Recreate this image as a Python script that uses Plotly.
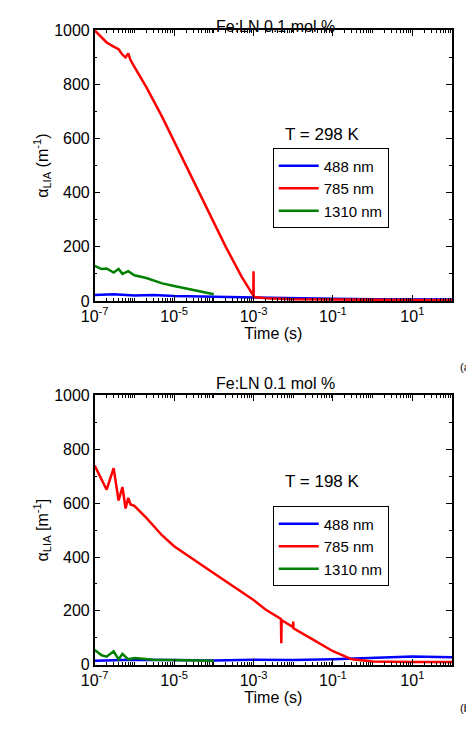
import plotly.graph_objects as go
from plotly.subplots import make_subplots

# panel (a), T = 298 K
t_a_red = [1e-7, 1.5e-7, 2e-7, 3e-7, 4e-7, 5e-7, 6e-7, 7e-7, 8e-7, 1e-6, 2e-6, 5e-6, 1e-5, 2e-5, 5e-5, 1e-4, 2e-4, 5e-4,
           9.9e-4, 1e-3, 1.01e-3, 2e-3, 1e-2, 1e-1, 1, 10, 100]
a_red = [1000, 975, 955, 940, 930, 910, 900, 915, 890, 865, 790, 680, 590, 500, 380, 290, 200, 90,
         20, 110, 15, 10, 6, 5, 4, 4, 3]
t_a_green = [1e-7, 1.5e-7, 2e-7, 3e-7, 4e-7, 5e-7, 7e-7, 1e-6, 2e-6, 5e-6, 1e-5, 3e-5, 1e-4]
a_green = [130, 118, 120, 105, 118, 100, 110, 95, 85, 65, 55, 40, 25]
t_a_blue = [1e-7, 3e-7, 1e-6, 3e-6, 1e-5, 1e-4, 1e-3, 1e-2, 1e-1, 1, 10, 100]
a_blue = [22, 25, 20, 22, 18, 15, 12, 10, 8, 6, 6, 5]

# panel (b), T = 198 K
t_b_red = [1e-7, 1.5e-7, 2e-7, 3e-7, 4e-7, 5e-7, 6e-7, 7e-7, 8e-7, 1e-6, 2e-6, 5e-6, 1e-5, 1e-4, 1e-3, 2e-3,
           4.9e-3, 5e-3, 5.1e-3, 9.9e-3, 1e-2, 1.01e-2, 3e-2, 1e-1, 3e-1, 1, 10, 100]
b_red = [740, 690, 650, 730, 610, 660, 580, 620, 595, 590, 545, 480, 440, 340, 240, 205,
         170, 80, 165, 140, 160, 135, 95, 50, 20, 12, 10, 10]
t_b_green = [1e-7, 1.5e-7, 2e-7, 3e-7, 4e-7, 5e-7, 7e-7, 1e-6, 3e-6, 1e-5, 1e-4]
b_green = [55, 35, 30, 50, 20, 40, 20, 25, 18, 17, 15]
t_b_blue = [1e-7, 1e-6, 1e-5, 1e-4, 1e-3, 1e-2, 1e-1, 1, 10, 100]
b_blue = [15, 18, 17, 16, 18, 17, 20, 25, 30, 28]

fig = make_subplots(rows=2, cols=1)

BLUE, RED, GREEN = "#0000ff", "#ff0000", "#008000"

for row, t_blue, v_blue, t_red, v_red, t_green, v_green in [
    (1, t_a_blue, a_blue, t_a_red, a_red, t_a_green, a_green),
    (2, t_b_blue, b_blue, t_b_red, b_red, t_b_green, b_green),
]:
    lg = "legend" if row == 1 else "legend2"
    fig.add_trace(go.Scatter(x=t_blue, y=v_blue, name="488 nm", mode="lines",
                             line=dict(color=BLUE, width=2.5), legend=lg), row=row, col=1)
    fig.add_trace(go.Scatter(x=t_red, y=v_red, name="785 nm", mode="lines",
                             line=dict(color=RED, width=2.5), legend=lg), row=row, col=1)
    fig.add_trace(go.Scatter(x=t_green, y=v_green, name="1310 nm", mode="lines",
                             line=dict(color=GREEN, width=2.5), legend=lg), row=row, col=1)
for tr in fig.data:
    tr.showlegend = True

axis_style = dict(showline=True, linecolor="black", linewidth=1.5, mirror="ticks", ticks="inside",
                  tickcolor="black", ticklen=6, showgrid=False, zeroline=False,
                  tickfont=dict(size=16, color="black"))
fig.update_xaxes(type="log", range=[-7, 2], tickvals=[1e-7, 1e-5, 1e-3, 1e-1, 10],
                 ticktext=["10<sup>-7</sup>", "10<sup>-5</sup>", "10<sup>-3</sup>", "10<sup>-1</sup>", "10<sup>1</sup>"],
                 minor=dict(ticks="inside", ticklen=3, tickcolor="black", dtick="D1"),
                 title=dict(text="Time (s)", font=dict(size=16, color="black"), standoff=4), **axis_style)
fig.update_yaxes(range=[0, 1000], dtick=200, minor=dict(ticks="inside", ticklen=3, tickcolor="black", dtick=100),
                 **axis_style)
fig.update_yaxes(title=dict(text="α<sub>LIA</sub> (m<sup>-1</sup>)", font=dict(size=16, color="black"), standoff=2), row=1, col=1)
fig.update_yaxes(title=dict(text="α<sub>LIA</sub> [m<sup>-1</sup>]", font=dict(size=16, color="black"), standoff=2), row=2, col=1)

fig.update_layout(
    width=474, height=733, margin=dict(l=0, r=0, t=0, b=0),
    paper_bgcolor="white", plot_bgcolor="white",
    font=dict(family="Arial, Liberation Sans, sans-serif", color="black"),
    xaxis=dict(domain=[0.158, 0.935]), xaxis2=dict(domain=[0.158, 0.935]),
    yaxis=dict(domain=[0.602, 0.98]), yaxis2=dict(domain=[0.094, 0.47]),
    legend=dict(x=0.545, y=0.815, xanchor="left", yanchor="top", bordercolor="black", borderwidth=1,
                font=dict(size=15), tracegroupgap=0, itemwidth=40),
    legend2=dict(x=0.545, y=0.315, xanchor="left", yanchor="top", bordercolor="black", borderwidth=1,
                 font=dict(size=15), tracegroupgap=0, itemwidth=40),
    annotations=[
        dict(text="Fe:LN 0.1 mol %", x=0.55, y=1.0, xref="paper", yref="paper", yanchor="top", showarrow=False, font=dict(size=16)),
        dict(text="Fe:LN 0.1 mol %", x=0.55, y=0.472, xref="paper", yref="paper", yanchor="bottom", showarrow=False, font=dict(size=16)),
        dict(text="T = 298 K", x=0.74, y=0.85, xref="paper", yref="paper", showarrow=False, font=dict(size=17)),
        dict(text="T = 198 K", x=0.74, y=0.35, xref="paper", yref="paper", showarrow=False, font=dict(size=17)),
        dict(text="(a)", x=0.985, y=0.51, xref="paper", yref="paper", showarrow=False, xanchor="right", font=dict(size=11)),
        dict(text="(b)", x=0.985, y=0.022, xref="paper", yref="paper", showarrow=False, xanchor="right", font=dict(size=11)),
    ],
)

fig.write_html("out.html")
